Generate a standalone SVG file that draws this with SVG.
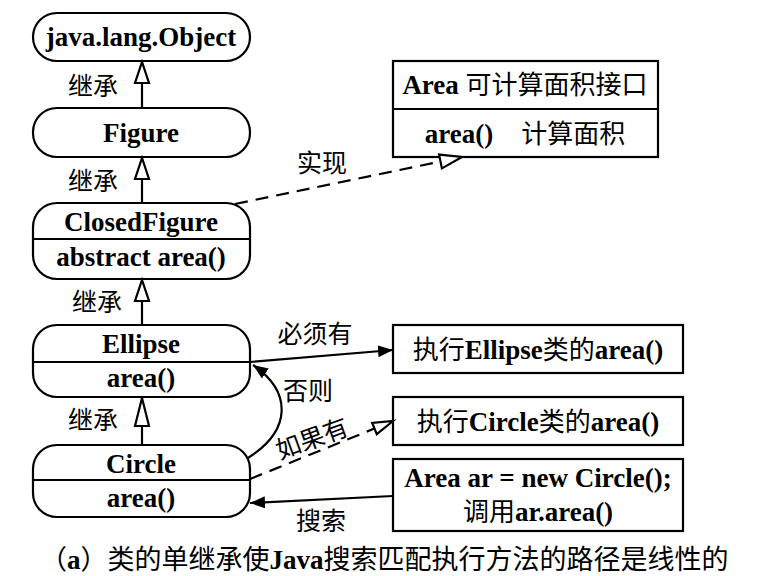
<svg xmlns="http://www.w3.org/2000/svg" width="760" height="576" viewBox="0 0 760 576">
<defs>
<marker id="fa" markerUnits="userSpaceOnUse" markerWidth="16" markerHeight="12" refX="15" refY="6" orient="auto">
<path d="M0,0 L15,6 L0,12 z" fill="#000"/>
</marker>
<style>
.n{fill:#fff;stroke:#000;stroke-width:2.2}
.d{stroke:#000;stroke-width:2.2}
.en{font-family:"Liberation Serif","Times New Roman",serif;font-weight:bold;font-size:27px;fill:#000}
.cn{font-family:"Noto Sans CJK SC","Noto Sans",sans-serif;font-size:25px;fill:#000}
.cb{font-family:"Noto Sans CJK SC","Noto Sans",sans-serif;font-size:26px;fill:#000}
.cap{font-size:27px}
.c{stroke:#000;stroke-width:2.2;fill:none}
.h{fill:#fff;stroke:#000;stroke-width:2.2}
.da{stroke-dasharray:13 8}
</style>
</defs>
<rect width="760" height="576" fill="#fff"/>

<g id="object">
<rect class="n" x="33" y="13" width="217" height="48" rx="24"/>
<text class="en" x="141" y="46" text-anchor="middle">java.lang.Object</text>
</g>
<g id="figure">
<rect class="n" x="33" y="108" width="217" height="49" rx="24"/>
<text class="en" x="141" y="142" text-anchor="middle">Figure</text>
</g>
<g id="closedfigure">
<rect class="n" x="33" y="203" width="217" height="76" rx="24"/>
<line class="d" x1="33" y1="239" x2="250" y2="239"/>
<text class="en" x="141" y="231" text-anchor="middle">ClosedFigure</text>
<text class="en" x="141" y="266" text-anchor="middle">abstract area()</text>
</g>
<g id="ellipse">
<rect class="n" x="33" y="325" width="217" height="72" rx="24"/>
<line class="d" x1="33" y1="362" x2="250" y2="362"/>
<text class="en" x="141" y="353" text-anchor="middle">Ellipse</text>
<text class="en" x="141" y="387" text-anchor="middle">area()</text>
</g>
<g id="circle">
<rect class="n" x="33" y="445" width="217" height="72" rx="24"/>
<line class="d" x1="33" y1="480" x2="250" y2="480"/>
<text class="en" x="141" y="473" text-anchor="middle">Circle</text>
<text class="en" x="141" y="507" text-anchor="middle">area()</text>
</g>
<g id="area">
<rect class="n" x="393" y="61" width="265" height="96"/>
<line class="d" x1="393" y1="109" x2="658" y2="109"/>
<text x="525" y="94" text-anchor="middle"><tspan class="en">Area </tspan><tspan class="cb">可计算面积接口</tspan></text>
<text x="525" y="143" text-anchor="middle"><tspan class="en">area()</tspan><tspan class="cb" dx="28">计算面积</tspan></text>
</g>
<g id="execEllipse">
<rect class="n" x="393" y="325" width="290" height="48"/>
<text x="538" y="359" text-anchor="middle"><tspan class="cb">执行</tspan><tspan class="en">Ellipse</tspan><tspan class="cb">类的</tspan><tspan class="en">area()</tspan></text>
</g>
<g id="execCircle">
<rect class="n" x="393" y="397" width="290" height="48"/>
<text x="538" y="431" text-anchor="middle"><tspan class="cb">执行</tspan><tspan class="en">Circle</tspan><tspan class="cb">类的</tspan><tspan class="en">area()</tspan></text>
</g>
<g id="call">
<rect class="n" x="393" y="459" width="290" height="72"/>
<text class="en" x="538" y="487" text-anchor="middle">Area ar = new Circle();</text>
<text x="538" y="521" text-anchor="middle"><tspan class="cb">调用</tspan><tspan class="en">ar.area()</tspan></text>
</g>

<g id="connectors">
<line class="c" x1="142" y1="108" x2="142" y2="83"/>
<polygon class="h" points="142,62 135,83 149,83"/>
<line class="c" x1="142" y1="203" x2="142" y2="179"/>
<polygon class="h" points="142,158 135,179 149,179"/>
<line class="c" x1="142" y1="325" x2="142" y2="301"/>
<polygon class="h" points="142,280 135,301 149,301"/>
<line class="c" x1="142" y1="445" x2="142" y2="426"/>
<polygon class="h" points="142,398 135,426 149,426"/>

<line class="c da" x1="235" y1="204" x2="440.5" y2="161.5"/>
<polygon class="h" points="462,157 441.9,168.4 439.1,154.6"/>

<line class="c" x1="250" y1="362" x2="393" y2="350" marker-end="url(#fa)"/>
<path class="c" d="M248,458 C292,430 292,392 253,365" marker-end="url(#fa)"/>
<line class="c da" x1="250" y1="479" x2="374.5" y2="428.5"/>
<polygon class="h" points="393,421 376.8,434.1 372.2,422.9"/>
<line class="c" x1="393" y1="496" x2="250" y2="503" marker-end="url(#fa)"/>

<text class="cn" x="93" y="95" text-anchor="middle">继承</text>
<text class="cn" x="93" y="190" text-anchor="middle">继承</text>
<text class="cn" x="97" y="311" text-anchor="middle">继承</text>
<text class="cn" x="93" y="429" text-anchor="middle">继承</text>
<text class="cn" x="322" y="172" text-anchor="middle">实现</text>
<text class="cn" x="315" y="343" text-anchor="middle">必须有</text>
<text class="cn" x="308" y="400" text-anchor="middle">否则</text>
<text class="cn" x="0" y="0" text-anchor="middle" transform="translate(315,447) rotate(-20)">如果有</text>
<text class="cn" x="321" y="530" text-anchor="middle">搜索</text>
</g>

<text x="40" y="569"><tspan class="cn cap">（</tspan><tspan class="en cap">a</tspan><tspan class="cn cap">）类的单继承使</tspan><tspan class="en cap">Java</tspan><tspan class="cn cap">搜索匹配执行方法的路径是线性的</tspan></text>
</svg>
